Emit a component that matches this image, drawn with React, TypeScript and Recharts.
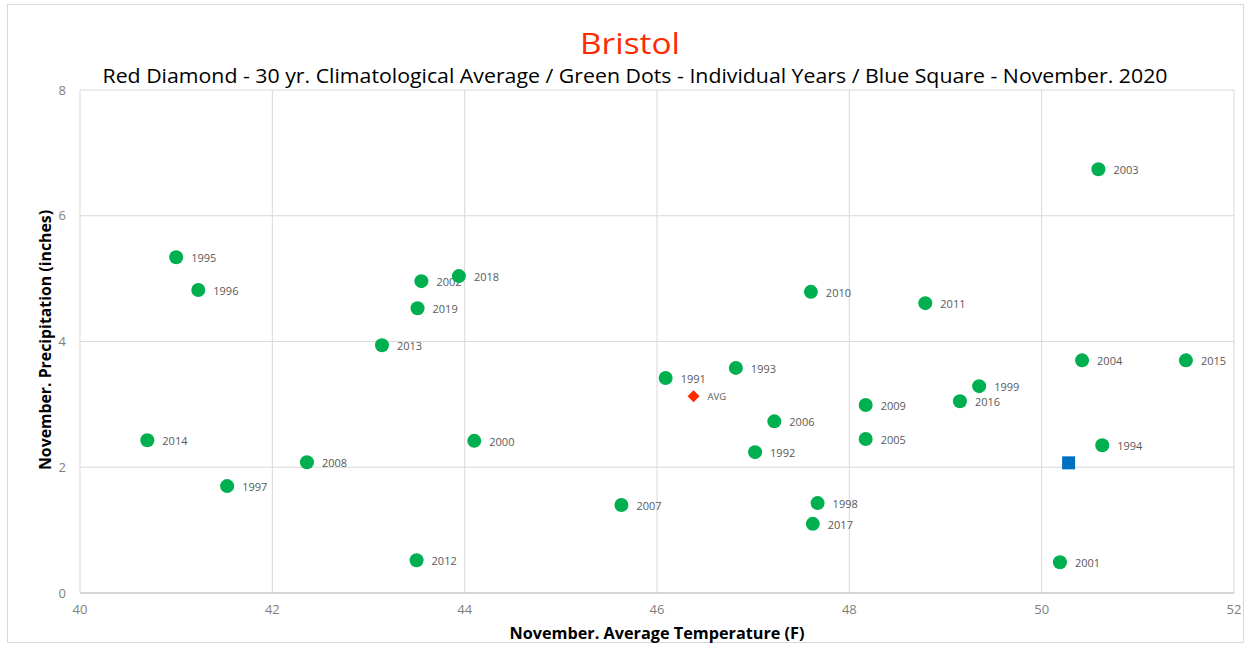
import { ScatterChart, Scatter, XAxis, YAxis, CartesianGrid } from "recharts";

// one entry per year: [year, temp (F), precip (in)]
const years = [
  "1991", "1992", "1993", "1994", "1995", "1996", "1997", "1998", "1999", "2000",
  "2001", "2002", "2003", "2004", "2005", "2006", "2007", "2008", "2009", "2010",
  "2011", "2012", "2013", "2014", "2015", "2016", "2017", "2018", "2019",
];
const temps = [
  46.09, 47.02, 46.82, 50.63, 41.0, 41.23, 41.53, 47.67, 49.35, 44.1,
  50.19, 43.55, 50.59, 50.42, 48.17, 47.22, 45.63, 42.36, 48.17, 47.6,
  48.79, 43.5, 43.14, 40.7, 51.5, 49.15, 47.62, 43.94, 43.51,
];
const precip = [
  3.42, 2.24, 3.58, 2.35, 5.34, 4.82, 1.7, 1.43, 3.29, 2.42,
  0.49, 4.96, 6.74, 3.7, 2.45, 2.73, 1.4, 2.08, 2.99, 4.79,
  4.61, 0.52, 3.94, 2.43, 3.7, 3.05, 1.1, 5.04, 4.53,
];

const avgTemp = 46.38;
const avgPrecip = 3.13;
const current = { year: "2020", temp: 50.28, precip: 2.07 };

const xTicks = [40, 42, 44, 46, 48, 50, 52];
const yTicks = [0, 2, 4, 6, 8];

const FONT = "'Open Sans', 'Noto Sans', sans-serif";

const yearData = years.map((y, i) => ({ year: y, temp: temps[i], precip: precip[i] }));
const avgData = [{ year: "AVG", temp: avgTemp, precip: avgPrecip }];
const nowData = [current];

const Dot = (props: any) => {
  const { cx, cy, payload } = props;
  return (
    <g>
      <circle cx={cx} cy={cy} r={7} fill="#00B050" />
      <text x={cx + 15} y={cy + 5} fontSize={11} fill="#595959" fontFamily={FONT}>
        {payload.year}
      </text>
    </g>
  );
};

const Diamond = (props: any) => {
  const { cx, cy } = props;
  const s = 6;
  return (
    <g>
      <path d={`M${cx},${cy - s} L${cx + s},${cy} L${cx},${cy + s} L${cx - s},${cy} Z`} fill="#FF2A00" />
      <text x={cx + 14} y={cy + 4} fontSize={9.5} fill="#595959" fontFamily={FONT}>
        AVG
      </text>
    </g>
  );
};

const Square = (props: any) => {
  const { cx, cy } = props;
  return <rect x={cx - 6.5} y={cy - 6.5} width={13} height={13} fill="#0070C0" />;
};

export default function App() {
  return (
    <div style={{ position: "absolute", left: 0, top: 0, width: 1252, height: 647, background: "#fff", fontFamily: FONT }}>
      <div
        style={{
          position: "absolute",
          left: 7,
          top: 4,
          width: 1237,
          height: 639,
          border: "1px solid #d9d9d9",
          boxSizing: "border-box",
        }}
      />
      <div style={{ position: "absolute", left: 0, top: 0 }}>
        <ScatterChart width={1252} height={647} margin={{ top: 90, right: 18, bottom: 24, left: 40 }}>
          <CartesianGrid stroke="#d9d9d9" strokeWidth={1} />
          <XAxis
            type="number"
            dataKey="temp"
            domain={[40, 52]}
            ticks={xTicks}
            height={30}
            tickSize={0}
            tickMargin={12}
            axisLine={{ stroke: "#bfbfbf" }}
            tick={{ fill: "#7f7f7f", fontSize: 13, fontFamily: FONT }}
            allowDataOverflow
          />
          <YAxis
            type="number"
            dataKey="precip"
            domain={[0, 8]}
            ticks={yTicks}
            width={40}
            tickSize={0}
            tickMargin={14}
            axisLine={false}
            tick={{ fill: "#7f7f7f", fontSize: 13, fontFamily: FONT }}
            allowDataOverflow
          />
          <Scatter data={yearData} shape={Dot} isAnimationActive={false} />
          <Scatter data={avgData} shape={Diamond} isAnimationActive={false} />
          <Scatter data={nowData} shape={Square} isAnimationActive={false} />
        </ScatterChart>
      </div>
      <svg width={1252} height={647} style={{ position: "absolute", left: 0, top: 0, pointerEvents: "none" }}>
        <text
          x={630}
          y={54}
          textAnchor="middle"
          fontSize={30}
          fill="#FF2A00"
          fontFamily={FONT}
          textLength={100}
          lengthAdjust="spacingAndGlyphs"
        >
          Bristol
        </text>
        <text
          x={635}
          y={83}
          textAnchor="middle"
          fontSize={20}
          fill="#000"
          fontFamily={FONT}
          textLength={1065}
          lengthAdjust="spacingAndGlyphs"
        >
          Red Diamond - 30 yr. Climatological Average / Green Dots - Individual Years / Blue Square - November. 2020
        </text>
        <text
          x={657}
          y={639}
          textAnchor="middle"
          fontSize={16}
          fontWeight="bold"
          fill="#000"
          fontFamily={FONT}
          textLength={295}
          lengthAdjust="spacingAndGlyphs"
        >
          November. Average Temperature (F)
        </text>
        <text
          x={0}
          y={0}
          transform="translate(51,340) rotate(-90)"
          textAnchor="middle"
          fontSize={16}
          fontWeight="bold"
          fill="#000"
          fontFamily={FONT}
          textLength={260}
          lengthAdjust="spacingAndGlyphs"
        >
          November. Precipitation (inches)
        </text>
      </svg>
    </div>
  );
}
